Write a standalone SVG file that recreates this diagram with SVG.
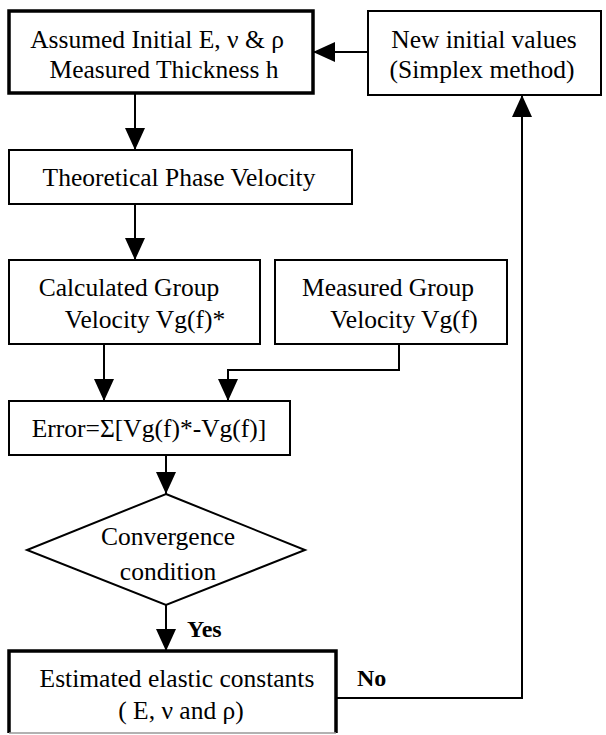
<svg xmlns="http://www.w3.org/2000/svg" width="606" height="735" viewBox="0 0 606 735">
<defs>
<marker id="ah" markerUnits="userSpaceOnUse" markerWidth="22" markerHeight="22" refX="22" refY="10" orient="auto">
<path d="M0,0 L22,10 L0,20 Z" fill="#000"/>
</marker>
<style>
.box{fill:#fff;stroke:#000;stroke-width:2}
.thick{fill:#fff;stroke:#000;stroke-width:3.5}
.t{font-family:"Liberation Serif","Times New Roman",serif;font-size:25.5px;fill:#000;text-anchor:middle}
.b{font-family:"Liberation Serif","Times New Roman",serif;font-size:24px;font-weight:bold;fill:#000}
.c{fill:none;stroke:#000;stroke-width:2}
</style>
</defs>
<rect width="606" height="735" fill="#fff"/>
<g id="connectors">
<path class="c" d="M368,52 L313,52" marker-end="url(#ah)"/>
<path class="c" d="M135,93 L135,150" marker-end="url(#ah)"/>
<path class="c" d="M135,204 L135,260" marker-end="url(#ah)"/>
<path class="c" d="M104,344 L104,401" marker-end="url(#ah)"/>
<path class="c" d="M399,344 L399,370 L228,370 L228,401" marker-end="url(#ah)"/>
<path class="c" d="M166,455 L166,494" marker-end="url(#ah)"/>
<path class="c" d="M166,605 L166,651" marker-end="url(#ah)"/>
<path class="c" d="M336,698 L522,698 L522,95" marker-end="url(#ah)"/>
<text class="b" x="187" y="637">Yes</text>
<text class="b" x="357" y="686">No</text>
</g>
<g id="n1">
<rect class="thick" x="9" y="11" width="304" height="82"/>
<text class="t" x="157" y="48">Assumed Initial E, ν &amp; ρ</text>
<text class="t" x="164" y="78">Measured Thickness h</text>
</g>
<g id="n2">
<rect class="box" x="368" y="11" width="233" height="84"/>
<text class="t" x="484" y="48">New initial values</text>
<text class="t" x="482" y="78">(Simplex method)</text>
</g>
<g id="n3">
<rect class="box" x="9" y="150" width="343" height="54"/>
<text class="t" x="179" y="186">Theoretical Phase Velocity</text>
</g>
<g id="n4">
<rect class="box" x="9" y="260" width="251" height="84"/>
<text class="t" x="129" y="296">Calculated Group</text>
<text class="t" x="145" y="328">Velocity Vg(f)*</text>
</g>
<g id="n5">
<rect class="box" x="275" y="260" width="232" height="84"/>
<text class="t" x="388" y="296">Measured Group</text>
<text class="t" x="404" y="328">Velocity Vg(f)</text>
</g>
<g id="n6">
<rect class="box" x="9" y="401" width="281" height="54"/>
<text class="t" x="149" y="437">Error=Σ[Vg(f)*-Vg(f)]</text>
</g>
<g id="n7">
<path class="box" d="M166,494 L305,550 L166,605 L27,550 Z"/>
<text class="t" x="168" y="545">Convergence</text>
<text class="t" x="168" y="580">condition</text>
</g>
<g id="n8">
<path d="M9,733 L9,651 L336,651 L336,733" fill="#fff" stroke="#000" stroke-width="3.5"/>
<path d="M9,733 L336,733" stroke="#999" stroke-width="1.5" fill="none"/>
<text class="t" x="177" y="687">Estimated elastic constants</text>
<text class="t" x="181" y="719">( E, ν and ρ)</text>
</g>
</svg>
